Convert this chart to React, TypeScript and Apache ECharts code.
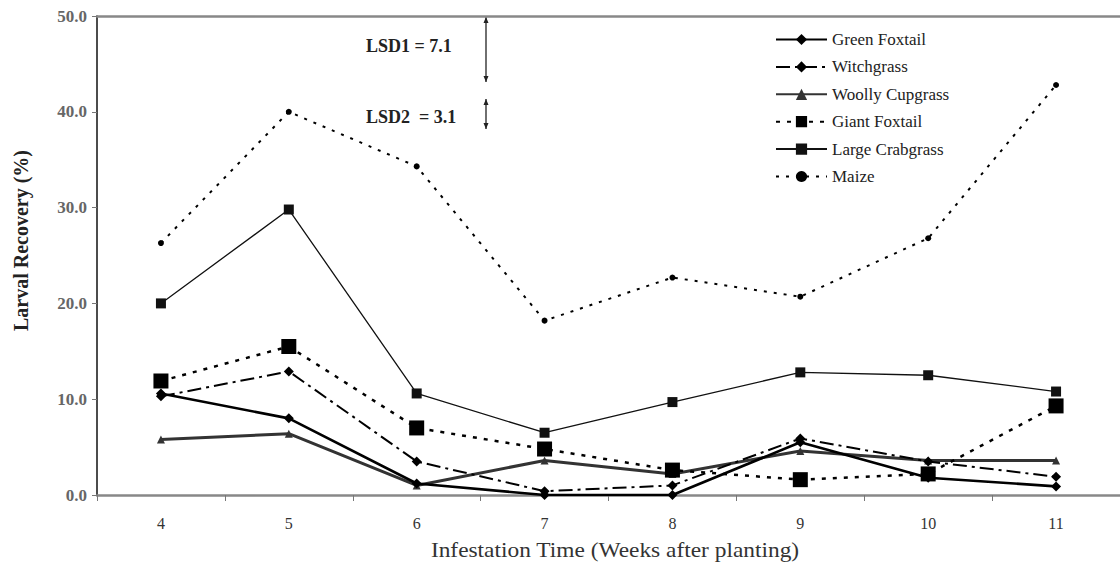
import React, { useEffect, useRef } from "react";
import * as echarts from "echarts";

const weeks = ["4", "5", "6", "7", "8", "9", "10", "11"];
const yTicks = [0, 10, 20, 30, 40, 50];

const greenFoxtail = [10.6, 8.0, 1.2, 0.0, 0.0, 5.5, 1.8, 0.9];
const witchgrass = [10.3, 12.9, 3.5, 0.4, 1.0, 5.9, 3.5, 1.9];
const woollyCupgrass = [5.8, 6.4, 1.0, 3.6, 2.2, 4.6, 3.6, 3.6];
const giantFoxtail = [11.9, 15.5, 7.0, 4.8, 2.6, 1.6, 2.2, 9.3];
const largeCrabgrass = [20.0, 29.8, 10.6, 6.5, 9.7, 12.8, 12.5, 10.8];
const maize = [26.3, 40.0, 34.3, 18.2, 22.7, 20.7, 26.8, 42.8];

const lsdLabels = ["LSD1 = 7.1", "LSD2  = 3.1"];
const xTitle = "Infestation Time (Weeks after planting)";

const serif = "'Liberation Serif', 'Times New Roman', serif";

export default function App() {
  const ref = useRef<HTMLDivElement>(null);
  useEffect(() => {
    if (!ref.current) return;
    const chart = echarts.init(ref.current, null, { renderer: "svg" });
    const arrowX = 486;
    const arrow = (x: number, y1: number, y2: number) => [
      { type: "line", shape: { x1: x, y1: y1, x2: x, y2: y2 }, style: { stroke: "#222", lineWidth: 1.3 } },
      { type: "polygon", shape: { points: [[x - 2.5, y1 + 6], [x, y1], [x + 2.5, y1 + 6]] }, style: { fill: "#222" } },
      { type: "polygon", shape: { points: [[x - 2.5, y2 - 6], [x, y2], [x + 2.5, y2 - 6]] }, style: { fill: "#222" } },
    ];
    const mk = (name: string, data: number[], opts: any) => ({
      name,
      type: "line",
      data,
      symbol: opts.symbol,
      symbolSize: opts.symbolSize,
      showSymbol: true,
      itemStyle: { color: opts.color || "#000" },
      lineStyle: { color: opts.color || "#000", width: opts.width, type: opts.dash },
      z: opts.z || 2,
    });
    chart.setOption({
      animation: false,
      backgroundColor: "#fff",
      grid: { left: 97, right: 0, top: 16, bottom: 72, containLabel: false },
      legend: {
        orient: "vertical",
        left: 775,
        top: 31,
        padding: 0,
        itemWidth: 51,
        itemHeight: 14,
        itemGap: 10.4,
        textStyle: { fontFamily: serif, fontSize: 17, lineHeight: 17, color: "#222" },
        data: ["Green Foxtail", "Witchgrass", "Woolly Cupgrass", "Giant Foxtail", "Large Crabgrass", "Maize"],
      },
      xAxis: [
        {
          type: "category",
          data: weeks,
          boundaryGap: true,
          axisLine: { lineStyle: { color: "#888", width: 2.5 } },
          axisTick: { show: true, alignWithLabel: false, length: 6, lineStyle: { color: "#777", width: 1 } },
          axisLabel: { fontFamily: serif, fontSize: 16, color: "#333", margin: 20 },
        },
        {
          type: "category",
          data: weeks,
          position: "top",
          axisLine: { show: true, lineStyle: { color: "#888", width: 2.5 } },
          axisTick: { show: false },
          axisLabel: { show: false },
        },
      ],
      yAxis: {
        type: "value",
        min: yTicks[0],
        max: yTicks[yTicks.length - 1],
        interval: 10,
        name: "Larval Recovery (%)",
        nameLocation: "middle",
        nameGap: 66,
        nameTextStyle: { fontFamily: serif, fontSize: 20, fontWeight: "bold", color: "#222", padding: [0, 0, 0, 30] },
        axisLine: { show: true, lineStyle: { color: "#111", width: 1.5 } },
        axisTick: { show: true, length: 5, lineStyle: { color: "#777" } },
        axisLabel: {
          fontFamily: serif,
          fontSize: 17,
          fontWeight: "bold",
          color: "#666",
          margin: 10,
          formatter: (v: number) => v.toFixed(1),
        },
        splitLine: { show: false },
      },
      series: [
        mk("Green Foxtail", greenFoxtail, { symbol: "diamond", symbolSize: 10, width: 2.6, dash: "solid", z: 5 }),
        mk("Witchgrass", witchgrass, { symbol: "diamond", symbolSize: 10, width: 2, dash: [14, 5, 3, 5], z: 4 }),
        mk("Woolly Cupgrass", woollyCupgrass, { symbol: "triangle", symbolSize: 8, width: 3, dash: "solid", color: "#333", z: 3 }),
        mk("Giant Foxtail", giantFoxtail, { symbol: "rect", symbolSize: 15, width: 2.5, dash: [4, 7], z: 3 }),
        mk("Large Crabgrass", largeCrabgrass, { symbol: "rect", symbolSize: 10, width: 1.3, dash: "solid", color: "#111", z: 2 }),
        mk("Maize", maize, { symbol: "circle", symbolSize: 6, width: 2, dash: [3, 7], z: 2 }),
      ],
      graphic: [
        { type: "text", x: 366, y: 37, style: { text: lsdLabels[0], font: `bold 18px ${serif}`, fill: "#222" } },
        { type: "text", x: 366, y: 108, style: { text: lsdLabels[1], font: `bold 18px ${serif}`, fill: "#222" } },
        ...arrow(arrowX, 17, 82),
        ...arrow(arrowX, 99, 129),
        {
          type: "text",
          x: 615,
          y: 551,
          scaleX: 1.17,
          style: { text: xTitle, font: `20px ${serif}`, fill: "#333", textAlign: "center", textVerticalAlign: "middle" },
        },
      ],
    });
    return () => chart.dispose();
  }, []);
  return (
    <div
      ref={ref}
      style={{ position: "absolute", left: 0, top: 0, width: 1120, height: 567, overflow: "hidden" }}
    />
  );
}
